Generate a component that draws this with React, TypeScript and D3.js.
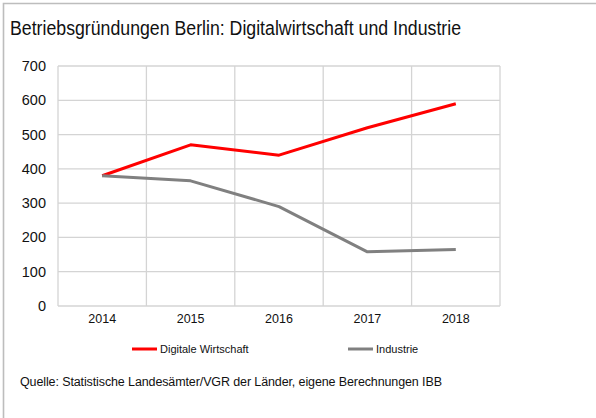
import * as d3 from "d3";

const years = ["2014", "2015", "2016", "2017", "2018"];
const digitalValues = [380, 470, 440, 520, 590];
const industryValues = [380, 365, 290, 158, 165];
const yTicks = [0, 100, 200, 300, 400, 500, 600, 700];

const seriesNames = ["Digitale Wirtschaft", "Industrie"];
const seriesColors = ["#ff0000", "#808080"];

const width = 596;
const height = 418;
const margin = { left: 58, right: 96, top: 66, bottom: 112 };

const font = "'Liberation Sans', Arial, sans-serif";

export default function App() {
  const x = d3
    .scaleBand()
    .domain(years)
    .range([margin.left, width - margin.right]);
  const y = d3
    .scaleLinear()
    .domain([0, 700])
    .range([height - margin.bottom, margin.top]);

  const line = d3
    .line<number>()
    .x((_, i) => (x(years[i]) ?? 0) + x.bandwidth() / 2)
    .y((d) => y(d));

  const series = [digitalValues, industryValues];

  // category boundaries for vertical grid
  const boundaries = years.map((yr) => (x(yr) ?? 0) + x.bandwidth());

  return (
    <svg
      width={width}
      height={height}
      style={{ position: "fixed", left: 0, top: 0, background: "#fff" }}
      fontFamily={font}
    >
      <rect width={width} height={height} fill="#fff" />
      {/* frame (only top and left visible) */}
      <path
        d={`M3.5,${height} V3.5 H${width}`}
        fill="none"
        stroke="#bdbdbd"
        strokeWidth={1.6}
      />

      <text
        x={10}
        y={35}
        fontSize={19.5}
        fill="#111"
        textLength={451}
        lengthAdjust="spacingAndGlyphs"
      >
        Betriebsgründungen Berlin: Digitalwirtschaft und Industrie
      </text>

      {/* grid */}
      <g stroke="#d4d4d4" strokeWidth={1.3}>
        {yTicks.map((t) => (
          <line
            key={t}
            x1={margin.left}
            x2={width - margin.right}
            y1={y(t)}
            y2={y(t)}
          />
        ))}
        <line
          x1={margin.left}
          x2={margin.left}
          y1={y(0)}
          y2={y(700)}
        />
        {boundaries.map((bx, i) => (
          <line key={i} x1={bx} x2={bx} y1={y(0)} y2={y(700)} />
        ))}
      </g>

      {/* y tick labels */}
      {yTicks.map((t) => (
        <text
          key={t}
          x={46}
          y={y(t) + 5}
          textAnchor="end"
          fontSize={14.5}
          fill="#111"
        >
          {t}
        </text>
      ))}

      {/* x tick labels */}
      {years.map((yr) => (
        <text
          key={yr}
          x={(x(yr) ?? 0) + x.bandwidth() / 2}
          y={323}
          textAnchor="middle"
          fontSize={12.5}
          fill="#111"
        >
          {yr}
        </text>
      ))}

      {/* series lines */}
      {series.map((vals, i) => (
        <path
          key={i}
          d={line(vals) ?? ""}
          fill="none"
          stroke={seriesColors[i]}
          strokeWidth={3}
          strokeLinejoin="round"
        />
      ))}

      {/* legend */}
      {seriesNames.map((name, i) => {
        const lx = i === 0 ? 132 : 348;
        return (
          <g key={name}>
            <line
              x1={lx}
              x2={lx + 25}
              y1={349}
              y2={349}
              stroke={seriesColors[i]}
              strokeWidth={3}
            />
            <text x={lx + 28} y={353} fontSize={11} fill="#111">
              {name}
            </text>
          </g>
        );
      })}

      <text
        x={20}
        y={386}
        fontSize={12.5}
        fill="#111"
        textLength={422}
        lengthAdjust="spacing"
      >
        Quelle: Statistische Landesämter/VGR der Länder, eigene Berechnungen IBB
      </text>
    </svg>
  );
}
